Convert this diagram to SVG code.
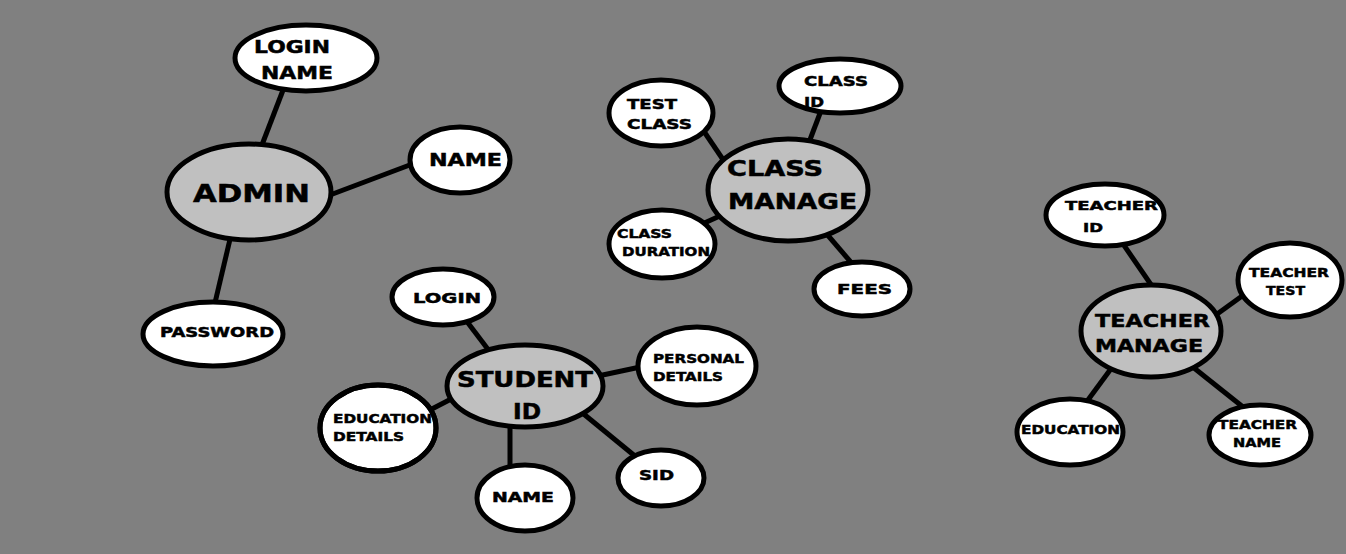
<svg xmlns="http://www.w3.org/2000/svg" width="1346" height="554" viewBox="0 0 1346 554">
<style>
.bg{fill:#808080}
.e{fill:#ffffff;stroke:#000;stroke-width:5}
.c{fill:#c0c0c0;stroke:#000;stroke-width:5}
.o{fill:none;stroke:#000;stroke-width:5}
line{stroke:#000;stroke-width:5}
text{font-family:"DejaVu Sans","Liberation Sans",sans-serif;font-weight:bold;fill:#000;stroke:#000;stroke-width:0.5}
.t25{font-size:25px}
.t21{font-size:21px}
.t18{font-size:18px}
.t14{font-size:14px}
.t13{font-size:13px}
</style>
<rect class="bg" x="0" y="0" width="1346" height="554"/>
<g id="connectors">
<line x1="285" y1="85" x2="260" y2="150"/>
<line x1="330" y1="195" x2="415" y2="163"/>
<line x1="231" y1="235" x2="214" y2="307"/>
<line x1="703" y1="130" x2="726" y2="164"/>
<line x1="822" y1="108" x2="808" y2="145"/>
<line x1="700" y1="225" x2="722" y2="215"/>
<line x1="825" y1="232" x2="855" y2="267"/>
<line x1="465" y1="319" x2="490" y2="352"/>
<line x1="598" y1="376" x2="645" y2="366"/>
<line x1="428" y1="411" x2="455" y2="397"/>
<line x1="510" y1="420" x2="510" y2="472"/>
<line x1="580" y1="411" x2="641" y2="461"/>
<line x1="1121" y1="241" x2="1154" y2="289"/>
<line x1="1213" y1="317" x2="1249" y2="291"/>
<line x1="1113" y1="366" x2="1085" y2="404"/>
<line x1="1189" y1="364" x2="1243" y2="407"/>
</g>
<g id="admin">
<ellipse class="c" cx="249" cy="192" rx="82" ry="48"/>
<text class="t25" x="193" y="202" textLength="117" lengthAdjust="spacingAndGlyphs">ADMIN</text>
</g>
<g id="admin-login-name">
<ellipse class="e" cx="306" cy="58" rx="71" ry="33"/>
<text class="t18" x="254" y="53" textLength="76" lengthAdjust="spacingAndGlyphs">LOGIN</text>
<text class="t18" x="261" y="79" textLength="72" lengthAdjust="spacingAndGlyphs">NAME</text>
</g>
<g id="admin-name">
<ellipse class="e" cx="460" cy="160" rx="50" ry="33"/>
<text class="t18" x="429" y="166" textLength="73" lengthAdjust="spacingAndGlyphs">NAME</text>
</g>
<g id="admin-password">
<ellipse class="e" cx="213" cy="334" rx="70" ry="32"/>
<text class="t14" x="160" y="337" textLength="114" lengthAdjust="spacingAndGlyphs">PASSWORD</text>
</g>
<g id="class-manage">
<ellipse class="c" cx="788" cy="190" rx="80" ry="51"/>
<text class="t21" x="727" y="176" textLength="96" lengthAdjust="spacingAndGlyphs">CLASS</text>
<text class="t21" x="728" y="209" textLength="129" lengthAdjust="spacingAndGlyphs">MANAGE</text>
</g>
<g id="test-class">
<ellipse class="e" cx="661" cy="113" rx="52" ry="33"/>
<text class="t14" x="627" y="109" textLength="50" lengthAdjust="spacingAndGlyphs">TEST</text>
<text class="t14" x="627" y="129" textLength="65" lengthAdjust="spacingAndGlyphs">CLASS</text>
</g>
<g id="class-id">
<ellipse class="e" cx="840" cy="86" rx="61" ry="27"/>
<text class="t14" x="804" y="86" textLength="64" lengthAdjust="spacingAndGlyphs">CLASS</text>
<text class="t14" x="804" y="107" textLength="20" lengthAdjust="spacingAndGlyphs">ID</text>
</g>
<g id="class-duration">
<ellipse class="e" cx="662" cy="244" rx="53" ry="34"/>
<text class="t13" x="617" y="238" textLength="55" lengthAdjust="spacingAndGlyphs">CLASS</text>
<text class="t13" x="622" y="256" textLength="88" lengthAdjust="spacingAndGlyphs">DURATION</text>
</g>
<g id="fees">
<ellipse class="e" cx="862" cy="289" rx="48" ry="27"/>
<text class="t14" x="837" y="294" textLength="55" lengthAdjust="spacingAndGlyphs">FEES</text>
</g>
<g id="student-id">
<ellipse class="c" cx="525" cy="386" rx="78" ry="41"/>
<text class="t21" x="457" y="387" textLength="136" lengthAdjust="spacingAndGlyphs">STUDENT</text>
<text class="t21" x="513" y="419" textLength="28" lengthAdjust="spacingAndGlyphs">ID</text>
</g>
<g id="student-login">
<ellipse class="e" cx="443" cy="297" rx="51" ry="28"/>
<text class="t14" x="413" y="303" textLength="68" lengthAdjust="spacingAndGlyphs">LOGIN</text>
</g>
<g id="personal-details">
<ellipse class="e" cx="697" cy="366" rx="59" ry="39"/>
<text class="t13" x="653" y="363" textLength="91" lengthAdjust="spacingAndGlyphs">PERSONAL</text>
<text class="t13" x="653" y="381" textLength="70" lengthAdjust="spacingAndGlyphs">DETAILS</text>
</g>
<g id="education-details">
<ellipse class="e" cx="378" cy="428" rx="58" ry="43"/>
<text class="t13" x="333" y="423" textLength="99" lengthAdjust="spacingAndGlyphs">EDUCATION</text>
<text class="t13" x="333" y="441" textLength="71" lengthAdjust="spacingAndGlyphs">DETAILS</text>
<ellipse class="o" cx="378" cy="428" rx="58" ry="43"/>
</g>
<g id="student-name">
<ellipse class="e" cx="525" cy="498" rx="48" ry="33"/>
<text class="t14" x="492" y="502" textLength="62" lengthAdjust="spacingAndGlyphs">NAME</text>
</g>
<g id="sid">
<ellipse class="e" cx="661" cy="478" rx="43" ry="28"/>
<text class="t14" x="639" y="480" textLength="35" lengthAdjust="spacingAndGlyphs">SID</text>
</g>
<g id="teacher-manage">
<ellipse class="c" cx="1151" cy="331" rx="70" ry="46"/>
<text class="t18" x="1095" y="327" textLength="115" lengthAdjust="spacingAndGlyphs">TEACHER</text>
<text class="t18" x="1095" y="352" textLength="108" lengthAdjust="spacingAndGlyphs">MANAGE</text>
</g>
<g id="teacher-id">
<ellipse class="e" cx="1105" cy="215" rx="59" ry="31"/>
<text class="t13" x="1065" y="210" textLength="93" lengthAdjust="spacingAndGlyphs">TEACHER</text>
<text class="t13" x="1083" y="232" textLength="20" lengthAdjust="spacingAndGlyphs">ID</text>
</g>
<g id="teacher-test">
<ellipse class="e" cx="1290" cy="280" rx="52" ry="37"/>
<text class="t13" x="1249" y="277" textLength="80" lengthAdjust="spacingAndGlyphs">TEACHER</text>
<text class="t13" x="1266" y="295" textLength="39" lengthAdjust="spacingAndGlyphs">TEST</text>
</g>
<g id="education">
<ellipse class="e" cx="1070" cy="432" rx="53" ry="33"/>
<text class="t13" x="1021" y="434" textLength="99" lengthAdjust="spacingAndGlyphs">EDUCATION</text>
</g>
<g id="teacher-name">
<ellipse class="e" cx="1260" cy="435" rx="51" ry="30"/>
<text class="t13" x="1218" y="429" textLength="79" lengthAdjust="spacingAndGlyphs">TEACHER</text>
<text class="t13" x="1233" y="447" textLength="48" lengthAdjust="spacingAndGlyphs">NAME</text>
</g>
</svg>
